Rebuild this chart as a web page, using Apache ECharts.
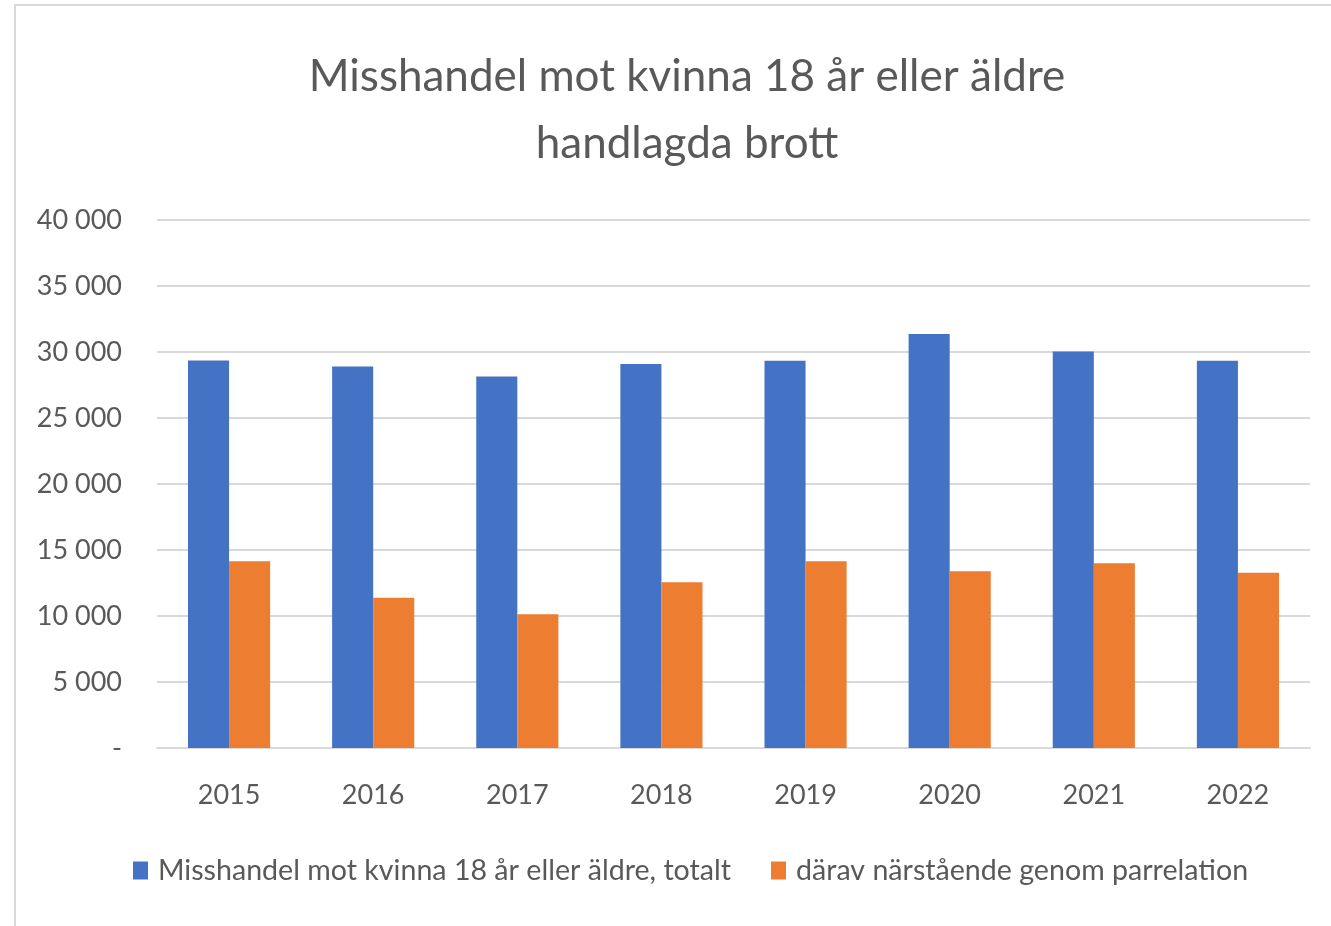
<!DOCTYPE html>
<html><head><meta charset="utf-8">
<script src="https://cdn.jsdelivr.net/npm/echarts@6/dist/echarts.min.js"></script>
<style>html,body{margin:0;padding:0;background:#fff}#c{width:1331px;height:926px}</style>
</head><body><div id="c"></div>
<script>
const categories = ['2015','2016','2017','2018','2019','2020','2021','2022'];
const totalt = [29360, 28910, 28150, 29090, 29340, 31360, 30040, 29340];
const parrelation = [14140, 11390, 10130, 12560, 14140, 13390, 13990, 13270];
const seriesNames = ['Misshandel mot kvinna 18 år eller äldre, totalt', 'därav närstående genom parrelation'];
const titleText = 'Misshandel mot kvinna 18 år eller äldre\nhandlagda brott';

const FONT = 'Lato';
const chart = echarts.init(document.getElementById('c'), null, {renderer:'canvas'});
chart.setOption({
  animation:false,
  backgroundColor:'#fff',
  graphic:[{type:'rect', shape:{x:15,y:5,width:1400,height:1000}, style:{fill:'none', stroke:'#d9d9d9', lineWidth:2}, z:-1}],
  title:{text:titleText, left:682, textAlign:'center', top:38,
    textStyle:{fontFamily:FONT, fontSize:44, fontWeight:'normal', color:'#595959', lineHeight:67}},
  legend:{bottom:36, left:128, itemWidth:15, itemHeight:18, itemGap:40, icon:'rect',
    textStyle:{fontFamily:FONT, fontSize:28.6, color:'#595959', padding:[0,0,0,5]}},
  grid:{left:157, right:21, top:220, bottom:178},
  xAxis:{type:'category', data:categories,
    axisLine:{lineStyle:{color:'#d9d9d9', width:2}}, axisTick:{show:false},
    axisLabel:{fontFamily:FONT, fontSize:27, color:'#595959', margin:34}},
  yAxis:{type:'value', min:0, max:40000, interval:5000,
    axisLine:{show:false}, axisTick:{show:false},
    splitLine:{lineStyle:{color:'#d9d9d9', width:2}},
    axisLabel:{fontFamily:FONT, fontSize:27, color:'#595959', margin:35,
      formatter:v=> v===0 ? '-' : String(v).replace(/\B(?=(\d{3})+(?!\d))/g,' ')}},
  series:[
    {name:seriesNames[0], type:'bar', data:totalt, itemStyle:{color:'#4472c4'}, barGap:'0%', barCategoryGap:'43%'},
    {name:seriesNames[1], type:'bar', data:parrelation, itemStyle:{color:'#ed7d31'}}
  ]
});
</script></body></html>
